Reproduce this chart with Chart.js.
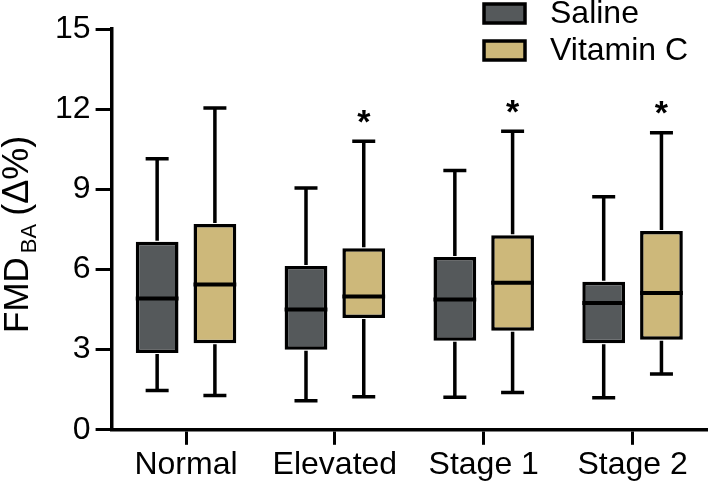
<!DOCTYPE html>
<html>
<head>
<meta charset="utf-8">
<script src="https://cdn.jsdelivr.net/npm/chart.js@4"></script>
<style>
html,body{margin:0;padding:0;background:#fff;}
canvas{display:block;}
</style>
</head>
<body>
<canvas id="c" width="709" height="486"></canvas>
<script>
const categories = ["Normal", "Elevated", "Stage 1", "Stage 2"];
const seriesNames = ["Saline", "Vitamin C"];
// Box statistics
const salineMin    = [1.47, 1.09, 1.22, 1.20];
const salineQ1     = [2.87, 3.00, 3.33, 3.24];
const salineMedian = [4.91, 4.50, 4.88, 4.75];
const salineQ3     = [7.04, 6.13, 6.47, 5.54];
const salineMax    = [10.14, 9.05, 9.70, 8.72];
const vitcMin      = [1.28, 1.24, 1.40, 2.09];
const vitcQ1       = [3.24, 4.18, 3.71, 3.37];
const vitcMedian   = [5.44, 4.99, 5.50, 5.12];
const vitcQ3       = [7.70, 6.79, 7.28, 7.44];
const vitcMax      = [12.04, 10.80, 11.17, 11.12];
const vitcSignificant = [false, true, true, true];
const yTicks = [0, 3, 6, 9, 12, 15];

const colors = ["#55595b", "#cdb87a"];
const FONT = "'Liberation Sans', Arial, Helvetica, sans-serif";

const stats = [
  {min: salineMin, q1: salineQ1, med: salineMedian, q3: salineQ3, max: salineMax, sig: categories.map(() => false)},
  {min: vitcMin, q1: vitcQ1, med: vitcMedian, q3: vitcQ3, max: vitcMax, sig: vitcSignificant}
];

const boxPlugin = {
  id: 'boxExtras',
  afterDatasetsDraw(chart) {
    const ctx = chart.ctx;
    const y = chart.scales.y;
    ctx.save();
    ctx.strokeStyle = '#000';
    ctx.fillStyle = '#000';
    stats.forEach((s, di) => {
      const meta = chart.getDatasetMeta(di);
      meta.data.forEach((bar, i) => {
        const x = bar.x;
        const w = bar.width;
        const yq1 = y.getPixelForValue(s.q1[i]);
        const yq3 = y.getPixelForValue(s.q3[i]);
        const ymin = y.getPixelForValue(s.min[i]);
        const ymax = y.getPixelForValue(s.max[i]);
        const ymed = y.getPixelForValue(s.med[i]);
        const cap = 23;
        ctx.lineWidth = 3.5;
        ctx.lineCap = 'butt';
        ctx.beginPath();
        ctx.moveTo(x, yq3 - 1); ctx.lineTo(x, ymax);
        ctx.moveTo(x - cap / 2, ymax); ctx.lineTo(x + cap / 2, ymax);
        ctx.moveTo(x, yq1 + 1); ctx.lineTo(x, ymin);
        ctx.moveTo(x - cap / 2, ymin); ctx.lineTo(x + cap / 2, ymin);
        ctx.stroke();
        ctx.lineWidth = 4;
        ctx.beginPath();
        ctx.moveTo(x - w / 2, ymed); ctx.lineTo(x + w / 2, ymed);
        ctx.stroke();
        if (s.sig[i]) {
          ctx.font = "bold 34px " + FONT;
          const m = ctx.measureText('*');
          const h = m.actualBoundingBoxAscent + m.actualBoundingBoxDescent;
          const cy = ymax - 25;
          ctx.textAlign = 'center';
          ctx.textBaseline = 'alphabetic';
          ctx.fillText('*', x, cy + m.actualBoundingBoxAscent - h / 2);
        }
      });
    });
    ctx.restore();
  },
  afterDraw(chart) {
    const ctx = chart.ctx;
    ctx.save();
    // Legend
    const legendY = [13, 50];
    seriesNames.forEach((name, i) => {
      ctx.fillStyle = colors[i];
      ctx.fillRect(484, legendY[i] - 9, 41, 19);
      ctx.lineWidth = 3.5;
      ctx.strokeStyle = '#000';
      ctx.strokeRect(484, legendY[i] - 9, 41, 19);
      ctx.fillStyle = '#000';
      ctx.font = "32px " + FONT;
      ctx.textAlign = 'left';
      ctx.textBaseline = 'middle';
      ctx.fillText(name, 550, legendY[i] + 1);
    });
    // Y axis title with subscript
    ctx.translate(28, 333);
    ctx.rotate(-Math.PI / 2);
    ctx.textAlign = 'left';
    ctx.textBaseline = 'alphabetic';
    ctx.fillStyle = '#000';
    let px = 0;
    ctx.font = "35px " + FONT;
    ctx.fillText('FMD', px, 0);
    px += ctx.measureText('FMD').width + 4;
    ctx.font = "22px " + FONT;
    ctx.fillText('BA', px, 8);
    px += ctx.measureText('BA').width + 8;
    ctx.font = "36px " + FONT;
    ctx.fillText('(\u0394%)', px, 0);
    ctx.restore();
  }
};

new Chart(document.getElementById('c'), {
  type: 'bar',
  data: {
    labels: categories,
    datasets: stats.map((s, di) => ({
      label: seriesNames[di],
      data: categories.map((c, i) => [s.q1[i], s.q3[i]]),
      backgroundColor: colors[di],
      borderColor: '#000',
      borderWidth: 3.5,
      borderSkipped: false,
      categoryPercentage: 0.776,
      barPercentage: 0.74
    }))
  },
  options: {
    responsive: false,
    animation: false,
    layout: {padding: {left: 50, top: 29, right: 2, bottom: 0}},
    plugins: {legend: {display: false}, tooltip: {enabled: false}},
    scales: {
      x: {
        offset: true,
        grid: {drawOnChartArea: false, offset: false, tickLength: 15, tickWidth: 3, tickColor: '#000'},
        border: {display: true, color: '#000', width: 3.5},
        ticks: {font: {family: FONT, size: 32, lineHeight: 0.85}, color: '#000', padding: 7, maxRotation: 0}
      },
      y: {
        min: 0, max: 15,
        afterBuildTicks(scale) { scale.ticks = yTicks.map(v => ({value: v})); },
        grid: {drawOnChartArea: false, tickLength: 16, tickWidth: 3, tickColor: '#000'},
        border: {display: true, color: '#000', width: 3.5},
        ticks: {font: {family: FONT, size: 32}, color: '#000', padding: 5}
      }
    }
  },
  plugins: [boxPlugin]
});
</script>
</body>
</html>
